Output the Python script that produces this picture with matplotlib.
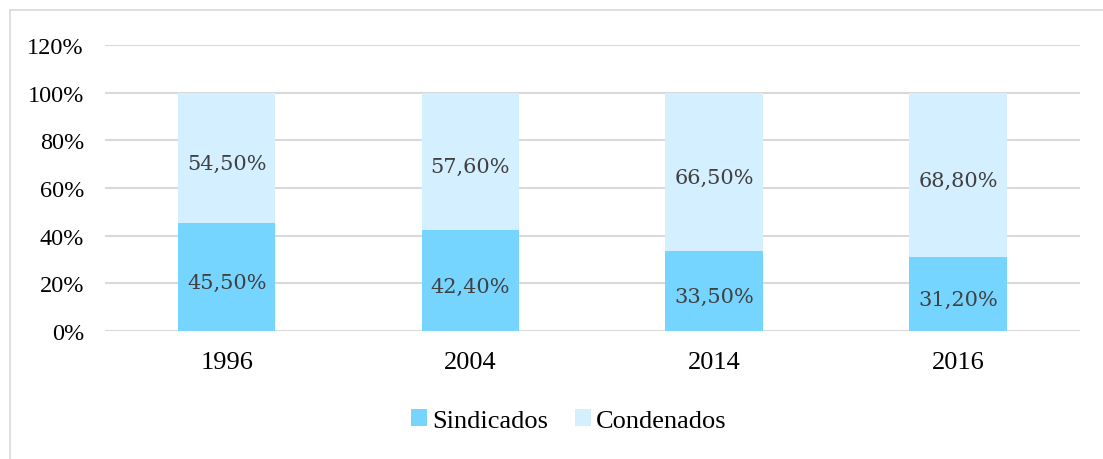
"""Stacked share bars: Sindicados vs Condenados by year."""
import numpy as np
import matplotlib
matplotlib.use("Agg")
import matplotlib.pyplot as plt
from matplotlib.lines import Line2D
from matplotlib import font_manager

years = ["1996", "2004", "2014", "2016"]
sindicados = [45.5, 42.4, 33.5, 31.2]
condenados = [54.5, 57.6, 66.5, 68.8]
yticks = [0, 20, 40, 60, 80, 100, 120]

C_SIND = "#75d5ff"
C_COND = "#d4efff"
GRID = "#d9d9d9"

serif = "Liberation Serif"
names = {f.name for f in font_manager.fontManager.ttflist}
if serif not in names:
    serif = "DejaVu Serif"
plt.rcParams["font.family"] = [serif, "DejaVu Serif"]

fig = plt.figure(figsize=(11.03, 4.6), dpi=100)
ax = fig.add_axes([0.095, 0.278, 0.884, 0.622])

x = np.arange(len(years))
w = 0.4
ax.bar(x, sindicados, w, color=C_SIND, label="Sindicados", zorder=3)
ax.bar(x, condenados, w, bottom=sindicados, color=C_COND, label="Condenados", zorder=3)

lab_font = dict(family=["DejaVu Serif"], fontsize=15, color="#404040",
                ha="center", va="center_baseline", textcoords="offset points", zorder=4)
for xi, s, c in zip(x, sindicados, condenados):
    ax.annotate(f"{s:.2f}%".replace(".", ","), (xi, s / 2), xytext=(0, -2.5), **lab_font)
    ax.annotate(f"{c:.2f}%".replace(".", ","), (xi, s + c / 2), xytext=(0, -2.5), **lab_font)

ax.set_xlim(-0.5, len(years) - 0.5)
ax.set_ylim(0, 120)
ax.set_yticks(yticks)
ax.set_yticklabels([f"{v}%" for v in yticks], fontsize=17.5)
ax.set_xticks(x)
ax.set_xticklabels(years, fontsize=19)
ax.tick_params(length=0)
ax.tick_params(axis="y", pad=15)
ax.tick_params(axis="x", pad=14)
ax.grid(axis="y", color=GRID, lw=1.5, zorder=0)
for sp in ax.spines.values():
    sp.set_visible(False)

ax.legend(loc="upper center", bbox_to_anchor=(0.476, -0.19), ncol=2, frameon=False,
          prop=dict(size=19), handlelength=0.6, handleheight=0.6,
          handletextpad=0.2, columnspacing=1.0)

# light chart frame: only top and left edges fall inside the image
fx, fy = 9.5 / 1103, 1 - 10.5 / 460
fig.add_artist(Line2D([fx, 1.05], [fy, fy], transform=fig.transFigure, color=GRID, lw=1.2))
fig.add_artist(Line2D([fx, fx], [-0.05, fy], transform=fig.transFigure, color=GRID, lw=1.2))

plt.savefig("out.png", dpi=100)
plt.close()
